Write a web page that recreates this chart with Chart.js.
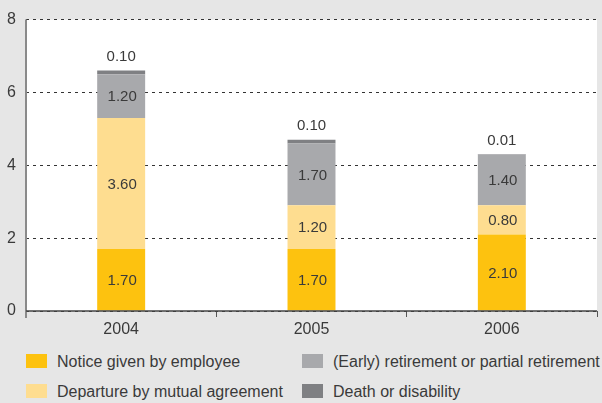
<!DOCTYPE html>
<html>
<head>
<meta charset="utf-8">
<script src="https://cdn.jsdelivr.net/npm/chart.js@4"></script>
<style>
  body { margin: 0; background: #e6e6e6; font-family: "Liberation Sans", Arial, sans-serif; }
  #wrap { position: relative; width: 602px; height: 403px; }
  #chartBox { position: absolute; left: 0; top: 0; width: 602px; height: 340px; }
  .legend-item { position: absolute; font-size: 16px; color: #3a3a3a; line-height: 16px; white-space: nowrap; }
  .legend-item span { position: absolute; left: 0; top: 0; width: 21px; height: 14px; }
  .legend-item div { position: absolute; left: 31px; top: 0; }
</style>
</head>
<body>
<div id="wrap">
  <div id="chartBox"><canvas id="barChart"></canvas></div>
  <div id="legend"></div>
</div>
<script>
const years = ['2004', '2005', '2006'];
const notice = [1.70, 1.70, 2.10];
const mutual = [3.60, 1.20, 0.80];
const retirement = [1.20, 1.70, 1.40];
const death = [0.10, 0.10, 0.01];
const yTicks = [0, 2, 4, 6, 8];

const seriesNames = ['Notice given by employee', 'Departure by mutual agreement',
    '(Early) retirement or partial retirement', 'Death or disability'];
const seriesColors = ['#fdc20f', '#fedd90', '#a8a9ac', '#7f8083'];

// nền trắng cho vùng vẽ
const plotBg = {
    id: 'plotBg',
    beforeDraw(chart) {
        const { ctx, chartArea: a } = chart;
        ctx.save();
        ctx.fillStyle = '#ffffff';
        ctx.fillRect(a.left, a.top, a.right - a.left, a.bottom - a.top);
        ctx.restore();
    },
    afterDraw(chart) {
        const { ctx, chartArea: a } = chart;
        ctx.save();
        // trục y kéo dài xuống dưới trục x
        ctx.strokeStyle = '#8a8a8a';
        ctx.lineWidth = 2;
        ctx.beginPath();
        ctx.moveTo(a.left, a.top);
        ctx.lineTo(a.left, a.bottom + 7);
        ctx.stroke();
        ctx.strokeStyle = '#444';
        ctx.lineWidth = 1.5;
        ctx.beginPath();
        ctx.moveTo(a.left, a.bottom);
        ctx.lineTo(a.right, a.bottom);
        ctx.stroke();
        ctx.restore();
    }
};

// nhãn giá trị
const valueLabels = {
    id: 'valueLabels',
    afterDatasetsDraw(chart) {
        const ctx = chart.ctx;
        ctx.save();
        ctx.font = '15px "Liberation Sans", Arial, sans-serif';
        ctx.fillStyle = '#3a3a3a';
        ctx.textAlign = 'center';
        chart.data.datasets.forEach((ds, di) => {
            const meta = chart.getDatasetMeta(di);
            meta.data.forEach((bar, i) => {
                const text = ds.data[i].toFixed(2);
                if (di === 3) {
                    ctx.textBaseline = 'bottom';
                    ctx.fillText(text, bar.x, bar.y - 6);
                } else {
                    ctx.textBaseline = 'middle';
                    ctx.fillText(text, bar.x + 1, (bar.y + bar.base) / 2 + 1);
                }
            });
        });
        ctx.restore();
    }
};

const ctx = document.getElementById('barChart').getContext('2d');
const datasets = [notice, mutual, retirement, death].map((d, i) => ({
    label: seriesNames[i],
    data: d,
    backgroundColor: seriesColors[i],
    borderWidth: 0,
    categoryPercentage: 1,
    barPercentage: 0.252
}));

const barChart = new Chart(ctx, {
    type: 'bar',
    data: { labels: years, datasets: datasets },
    options: {
        responsive: true,
        maintainAspectRatio: false,
        animation: false,
        layout: { padding: { top: 17, right: 5, left: 0, bottom: 0 } },
        plugins: {
            legend: { display: false },
            tooltip: { enabled: false }
        },
        scales: {
            x: {
                stacked: true,
                afterFit: s => { s.height = 29; },
                grid: {
                    offset: true,
                    drawOnChartArea: false,
                    drawTicks: true,
                    tickLength: 6,
                    color: '#555',
                    lineWidth: 1
                },
                border: { display: false },
                ticks: {
                    color: '#3a3a3a',
                    font: { size: 16, family: '"Liberation Sans", Arial, sans-serif' },
                    padding: 3
                }
            },
            y: {
                stacked: true,
                min: 0,
                max: 8,
                afterFit: s => { s.width = 26; },
                afterBuildTicks: s => { s.ticks = yTicks.map(v => ({ value: v })); },
                grid: {
                    drawTicks: false,
                    color: '#333',
                    lineWidth: 1
                },
                border: { display: false, dash: [3, 4] },
                ticks: {
                    color: '#3a3a3a',
                    padding: 10,
                    font: { size: 16, family: '"Liberation Sans", Arial, sans-serif' }
                }
            }
        }
    },
    plugins: [plotBg, valueLabels]
});

// legend riêng
const legendPos = [
    { left: 26, top: 354 },
    { left: 26, top: 384 },
    { left: 302, top: 354 },
    { left: 302, top: 384 }
];
const legendEl = document.getElementById('legend');
seriesNames.forEach((name, i) => {
    const item = document.createElement('div');
    item.className = 'legend-item';
    item.style.left = legendPos[i].left + 'px';
    item.style.top = legendPos[i].top + 'px';
    item.innerHTML = '<span style="background:' + seriesColors[i] + '"></span><div>' + name + '</div>';
    legendEl.appendChild(item);
});
</script>
</body>
</html>
